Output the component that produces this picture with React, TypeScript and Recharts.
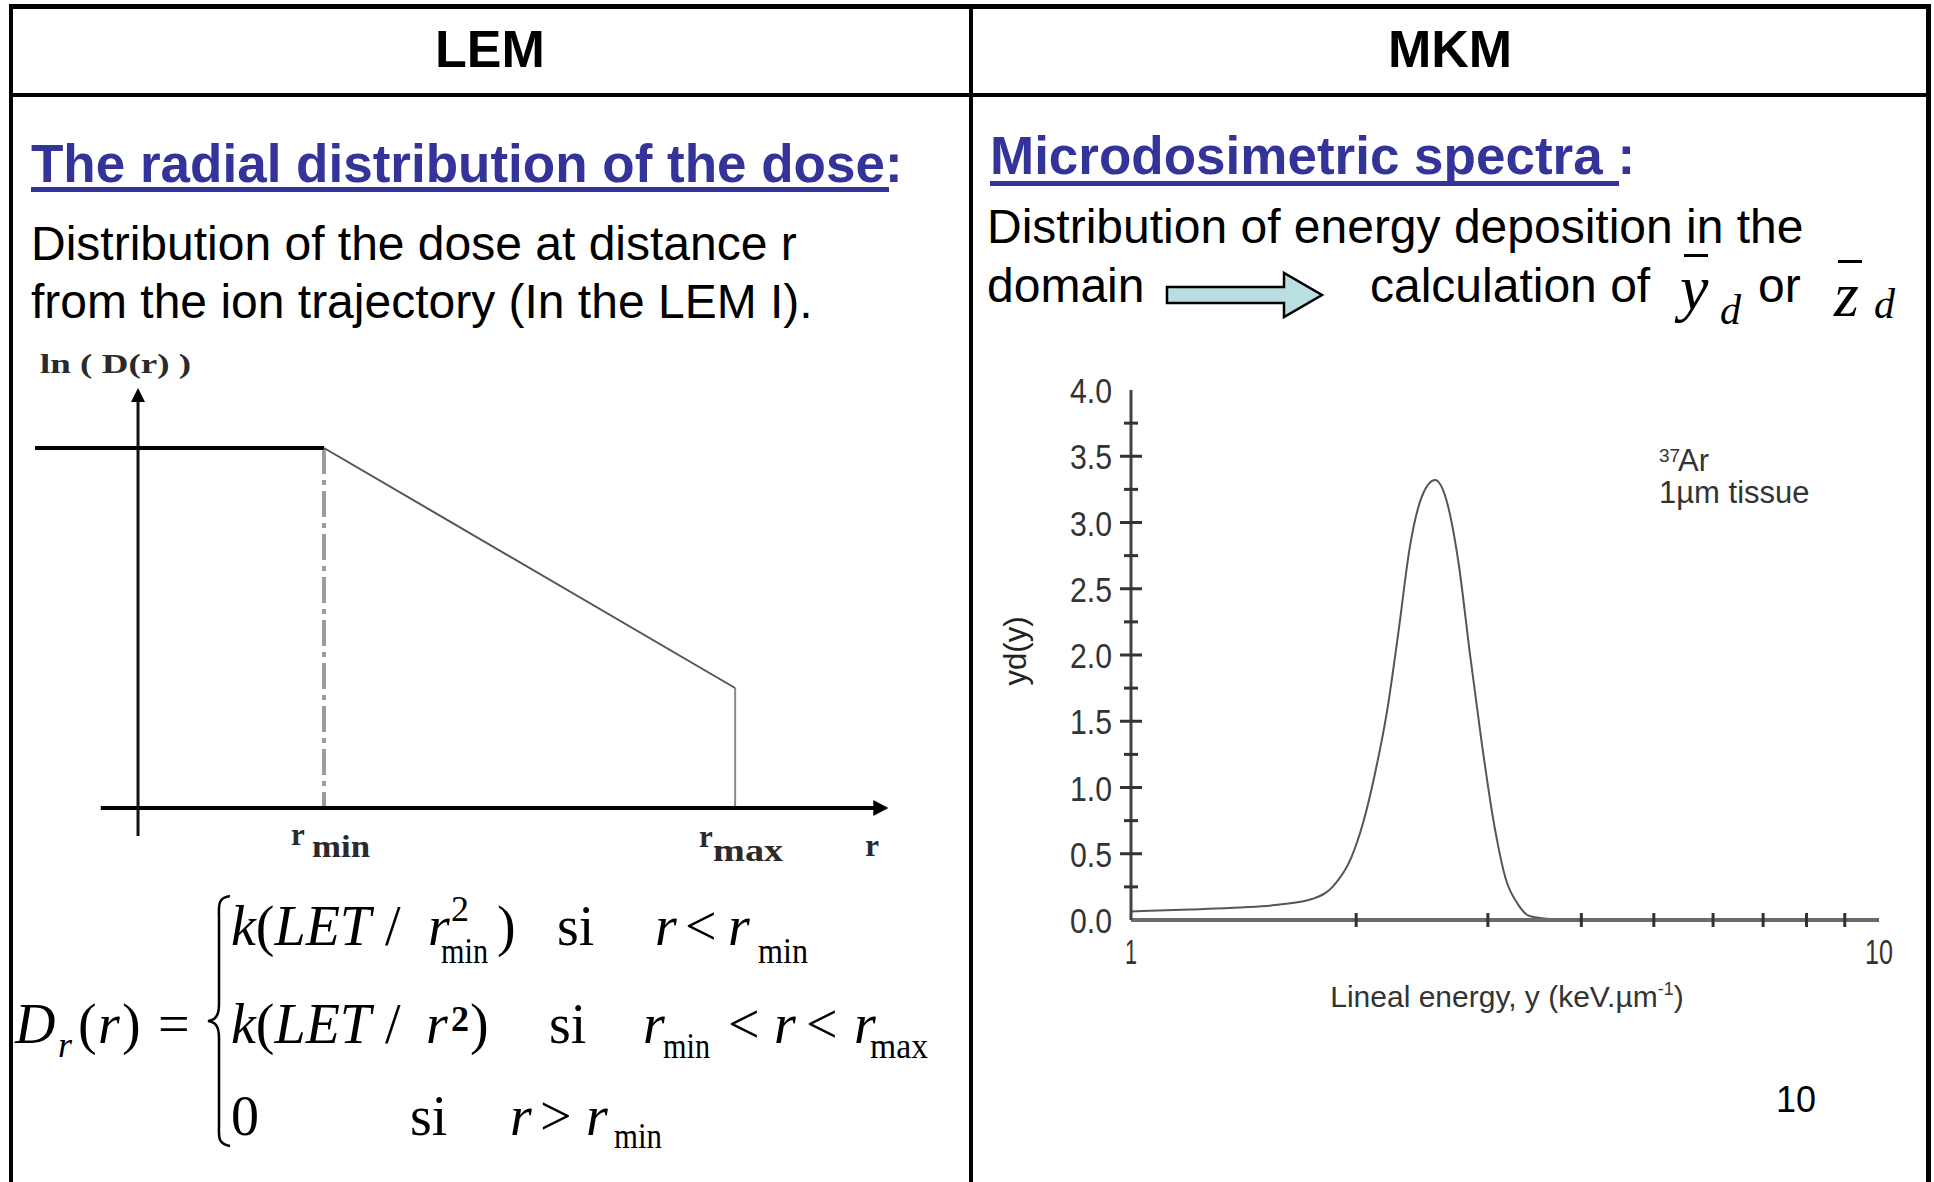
import React from "react";
import { LineChart, Line, XAxis, YAxis, ReferenceLine, ReferenceDot, Label } from "recharts";

// LEM schematic: ln(D(r)) against r, arbitrary units
const lemR = [-0.554, 1.0, 3.21]; // start of plateau, r_min, r_max
const lemLnD = [3.6, 3.6, 1.2];
const lemAxisR = [-0.2, 3.98];
const lemAxisLnD = [-0.28, 4.12];

// MKM spectrum: y d(y) against lineal energy (log axis)
const lineal = [1.0, 1.2, 1.4, 1.6, 1.75, 1.86, 1.97, 2.04, 2.12, 2.2, 2.28, 2.36, 2.45, 2.55, 2.64, 2.74, 2.84, 2.94, 3.05, 3.17, 3.29, 3.41, 3.67, 4.0];
const ydy = [0.065, 0.08, 0.095, 0.12, 0.16, 0.25, 0.47, 0.72, 1.11, 1.58, 2.19, 2.82, 3.2, 3.32, 3.17, 2.7, 2.0, 1.36, 0.76, 0.31, 0.12, 0.03, 0.005, 0];
const xTicks = [1, 2, 3, 4, 5, 6, 7, 8, 9, 10];
const yTicks = [0, 0.25, 0.5, 0.75, 1, 1.25, 1.5, 1.75, 2, 2.25, 2.5, 2.75, 3, 3.25, 3.5, 3.75, 4];

const SANS = "'Liberation Sans', Arial, sans-serif";
const SERIF = "'Liberation Serif', 'Times New Roman', serif";
const BLUE = "#333399";
const INK = "#333";

const plateau = [
  { r: lemR[0], v: lemLnD[0] },
  { r: lemR[1], v: lemLnD[1] },
];
const slope = [
  { r: lemR[1], v: lemLnD[1] },
  { r: lemR[2], v: lemLnD[2] },
];
const spectrum = lineal.map((e, i) => ({ e, v: ydy[i] }));

const isHalf = (v: number) => Math.abs(v * 2 - Math.round(v * 2)) < 1e-6;

function LemChart() {
  const lbl = { fontFamily: SERIF, fontWeight: 700, fill: "#2a2a2a" };
  return (
    <LineChart width={960} height={540} margin={{ top: 0, right: 0, bottom: 0, left: 0 }}>
      <XAxis type="number" dataKey="r" domain={[-0.742, 4.419]} allowDataOverflow hide />
      <YAxis type="number" domain={[-0.72, 4.68]} allowDataOverflow hide />
      <ReferenceLine
        segment={[{ x: lemR[1], y: lemLnD[1] }, { x: lemR[1], y: 0 }]}
        stroke="#9c9c9c"
        strokeWidth={4}
        strokeDasharray="26 6 5 6"
      />
      <ReferenceLine segment={[{ x: lemR[2], y: lemLnD[2] }, { x: lemR[2], y: 0 }]} stroke="#8a8a8a" strokeWidth={2} />
      <ReferenceLine segment={[{ x: lemAxisR[0], y: 0 }, { x: lemAxisR[1], y: 0 }]} stroke="#000" strokeWidth={4} />
      <ReferenceLine segment={[{ x: 0, y: lemAxisLnD[0] }, { x: 0, y: lemAxisLnD[1] }]} stroke="#111" strokeWidth={3} />
      <Line data={plateau} dataKey="v" stroke="#000" strokeWidth={4} dot={false} isAnimationActive={false} />
      <Line data={slope} dataKey="v" stroke="#555" strokeWidth={2} dot={false} isAnimationActive={false} />
      <ReferenceDot
        x={lemAxisR[1]}
        y={0}
        shape={(p: any) => <path d={`M${p.cx + 10},${p.cy} L${p.cx - 5},${p.cy - 8} L${p.cx - 5},${p.cy + 8} Z`} fill="#000" />}
      />
      <ReferenceDot
        x={0}
        y={lemAxisLnD[1]}
        shape={(p: any) => (
          <g>
            <path d={`M${p.cx},${p.cy - 8} L${p.cx - 7},${p.cy + 6} L${p.cx + 7},${p.cy + 6} Z`} fill="#000" />
            <text x={p.cx - 98} y={p.cy - 23} fontSize={27} textLength={151} lengthAdjust="spacingAndGlyphs" {...lbl}>
              ln ( D(r) )
            </text>
          </g>
        )}
      />
      <ReferenceDot
        x={lemR[1]}
        y={0}
        shape={(p: any) => (
          <g {...lbl} fontSize={31}>
            <text x={p.cx - 33} y={p.cy + 37}>r</text>
            <text x={p.cx - 12} y={p.cy + 49} textLength={58} lengthAdjust="spacingAndGlyphs">min</text>
          </g>
        )}
      />
      <ReferenceDot
        x={lemR[2]}
        y={0}
        shape={(p: any) => (
          <g {...lbl} fontSize={31}>
            <text x={p.cx - 36} y={p.cy + 39}>r</text>
            <text x={p.cx - 22} y={p.cy + 53} textLength={70} lengthAdjust="spacingAndGlyphs">max</text>
          </g>
        )}
      />
      <ReferenceDot
        x={lemAxisR[1]}
        y={0}
        shape={(p: any) => (
          <text x={p.cx - 13} y={p.cy + 48} fontSize={31} {...lbl}>
            r
          </text>
        )}
      />
    </LineChart>
  );
}

const BottomTick = (p: any) => {
  const v = p.payload.value;
  const end = v === 1 || v === 10;
  return (
    <g>
      {!end && <line x1={p.x} x2={p.x} y1={p.y - 7} y2={p.y + 7} stroke="#333" strokeWidth={3} />}
      {end && (
        <text
          x={p.x}
          y={p.y + 44}
          textAnchor="middle"
          fontSize={35}
          fontFamily={SANS}
          fill={INK}
          textLength={v === 10 ? 28 : 12}
          lengthAdjust="spacingAndGlyphs"
        >
          {v}
        </text>
      )}
    </g>
  );
};

const TopTick = (p: any) => {
  const v = p.payload.value;
  if (v === 1 || v === 10) return <g />;
  return <line x1={p.x} x2={p.x} y1={p.y} y2={p.y + 8} stroke="#444" strokeWidth={3} />;
};

const LeftTick = (p: any) => {
  const v = p.payload.value;
  const major = isHalf(v);
  const h = major ? 11 : 7;
  return (
    <g>
      {v > 0 && v < 4 && <line x1={p.x - h} x2={p.x + h} y1={p.y} y2={p.y} stroke="#333" strokeWidth={3} />}
      {major && (
        <text
          x={p.x - 19}
          y={p.y + 13}
          textAnchor="end"
          fontSize={35}
          fontFamily={SANS}
          fill={INK}
          textLength={42}
          lengthAdjust="spacingAndGlyphs"
        >
          {v.toFixed(1)}
        </text>
      )}
    </g>
  );
};

const RightTick = (p: any) => {
  const v = p.payload.value;
  if (v === 0 || v === 4) return <g />;
  const h = isHalf(v) ? 12 : 6;
  return <line x1={p.x - h} x2={p.x} y1={p.y} y2={p.y} stroke="#333" strokeWidth={3} />;
};

function MkmChart() {
  const axisLine = { stroke: "#6a6a6a", strokeWidth: 4 };
  return (
    <LineChart width={934} height={660} margin={{ top: 30, right: 55, bottom: 0, left: 0 }}>
      <XAxis
        type="number"
        dataKey="e"
        scale="log"
        domain={[1, 10]}
        allowDataOverflow
        ticks={xTicks}
        interval={0}
        height={100}
        tickSize={0}
        tickMargin={0}
        tickLine={false}
        axisLine={axisLine}
        tick={(p: any) => <BottomTick {...p} />}
      >
        <Label
          content={(p: any) => {
            const vb = p.viewBox;
            return (
              <text x={vb.x + vb.width / 2 + 2} y={vb.y + 87} textAnchor="middle" fontSize={30} fontFamily={SANS} fill={INK}>
                Lineal energy, y (keV.µm
                <tspan dy={-12} fontSize={18}>-1</tspan>
                <tspan dy={12}>)</tspan>
              </text>
            );
          }}
        />
      </XAxis>
      <XAxis
        xAxisId="top"
        orientation="top"
        type="number"
        dataKey="e"
        scale="log"
        domain={[1, 10]}
        allowDataOverflow
        ticks={xTicks}
        interval={0}
        height={0}
        tickSize={0}
        tickMargin={0}
        tickLine={false}
        axisLine={{ stroke: "#777", strokeWidth: 5 }}
        tick={(p: any) => <TopTick {...p} />}
      />
      <YAxis
        type="number"
        domain={[0, 4]}
        allowDataOverflow
        ticks={yTicks}
        interval={0}
        width={131}
        tickSize={0}
        tickMargin={0}
        tickLine={false}
        axisLine={{ stroke: "#444", strokeWidth: 3 }}
        tick={(p: any) => <LeftTick {...p} />}
      >
        <Label
          content={(p: any) => {
            const vb = p.viewBox;
            const cx = vb.x + 26;
            const cy = vb.y + vb.height / 2 - 4;
            return (
              <text transform={`translate(${cx},${cy}) rotate(-90)`} textAnchor="middle" fontSize={31} fontFamily={SANS} fill="#222">
                yd(y)
              </text>
            );
          }}
        />
      </YAxis>
      <YAxis
        yAxisId="right"
        orientation="right"
        type="number"
        domain={[0, 4]}
        allowDataOverflow
        ticks={yTicks}
        interval={0}
        width={0}
        tickSize={0}
        tickMargin={0}
        tickLine={false}
        axisLine={{ stroke: "#444", strokeWidth: 4 }}
        tick={(p: any) => <RightTick {...p} />}
      />
      <Line
        data={spectrum}
        dataKey="v"
        xAxisId="top"
        yAxisId="right"
        stroke="none"
        dot={false}
        activeDot={false}
        isAnimationActive={false}
      />
      <Line data={spectrum} dataKey="v" type="monotone" stroke="#555" strokeWidth={2} dot={false} isAnimationActive={false} />
      <ReferenceDot
        x={5.08}
        y={3.39}
        shape={(p: any) => (
          <g fontFamily={SANS} fill={INK}>
            <text x={p.cx} y={p.cy - 9} fontSize={19}>37</text>
            <text x={p.cx + 19} y={p.cy} fontSize={31}>Ar</text>
            <text x={p.cx} y={p.cy + 32} fontSize={31}>1µm tissue</text>
          </g>
        )}
      />
    </LineChart>
  );
}

function Slide() {
  const body = { fontFamily: SANS, fontSize: 48, fill: "#000" };
  const title = { fontFamily: SANS, fontSize: 53, fontWeight: 700, fill: BLUE };
  const m = { fontFamily: SERIF, fontSize: 56, fill: "#000" };
  const sub = { fontFamily: SERIF, fontSize: 36, fill: "#000" };
  return (
    <svg width={1934} height={1182} style={{ position: "absolute", left: 0, top: 0 }}>
      {/* table rules */}
      <rect x={9} y={4} width={1922} height={5} fill="#000" />
      <rect x={9} y={93} width={1922} height={4} fill="#000" />
      <rect x={9} y={4} width={4} height={1178} fill="#000" />
      <rect x={969} y={4} width={4} height={1178} fill="#000" />
      <rect x={1926} y={4} width={5} height={1178} fill="#000" />

      <text x={490} y={67} textAnchor="middle" fontFamily={SANS} fontSize={52} fontWeight={700}>LEM</text>
      <text x={1450} y={67} textAnchor="middle" fontFamily={SANS} fontSize={52} fontWeight={700}>MKM</text>

      {/* left column */}
      <text x={31} y={182} {...title}>The radial distribution of the dose:</text>
      <rect x={31} y={187} width={858} height={5} fill={BLUE} />
      <text x={31} y={260} {...body}>Distribution of the dose at distance r</text>
      <text x={31} y={318} {...body}>from the ion trajectory (In the LEM I).</text>

      {/* formula */}
      <text y={1043} {...m}>
        <tspan x={15} fontStyle="italic">D</tspan>
        <tspan x={78}>(</tspan>
        <tspan x={98} fontStyle="italic">r</tspan>
        <tspan x={122}>)</tspan>
        <tspan x={158}>=</tspan>
      </text>
      <text x={58} y={1057} {...sub} fontStyle="italic">r</text>
      <path
        d="M230,896 C217,898 219,906 219,918 L219,1004 C219,1015 216,1020 208,1021 C216,1022 219,1027 219,1038 L219,1124 C219,1136 217,1144 230,1146"
        fill="none"
        stroke="#000"
        strokeWidth={2.5}
      />
      <text y={945} {...m}>
        <tspan x={231} fontStyle="italic">k</tspan>
        <tspan>(</tspan>
        <tspan fontStyle="italic">LET</tspan>
        <tspan> / </tspan>
        <tspan x={428} fontStyle="italic">r</tspan>
        <tspan x={497}>)</tspan>
        <tspan x={557}>si</tspan>
        <tspan x={655} fontStyle="italic">r</tspan>
        <tspan x={685}>&lt;</tspan>
        <tspan x={728} fontStyle="italic">r</tspan>
      </text>
      <text x={451} y={921} {...sub}>2</text>
      <text x={441} y={963} {...sub} textLength={47} lengthAdjust="spacingAndGlyphs">min</text>
      <text x={758} y={963} {...sub} textLength={50} lengthAdjust="spacingAndGlyphs">min</text>

      <text y={1043} {...m}>
        <tspan x={231} fontStyle="italic">k</tspan>
        <tspan>(</tspan>
        <tspan fontStyle="italic">LET</tspan>
        <tspan> / </tspan>
        <tspan x={426} fontStyle="italic">r</tspan>
        <tspan x={470}>)</tspan>
        <tspan x={549}>si</tspan>
        <tspan x={643} fontStyle="italic">r</tspan>
        <tspan x={728}>&lt;</tspan>
        <tspan x={774} fontStyle="italic">r</tspan>
        <tspan x={806}>&lt;</tspan>
        <tspan x={854} fontStyle="italic">r</tspan>
      </text>
      <text x={451} y={1031} {...sub} fontWeight={700}>2</text>
      <text x={663} y={1058} {...sub} textLength={47} lengthAdjust="spacingAndGlyphs">min</text>
      <text x={870} y={1058} {...sub} textLength={58} lengthAdjust="spacingAndGlyphs">max</text>

      <text y={1135} {...m}>
        <tspan x={231}>0</tspan>
        <tspan x={410}>si</tspan>
        <tspan x={510} fontStyle="italic">r</tspan>
        <tspan x={540}>&gt;</tspan>
        <tspan x={586} fontStyle="italic">r</tspan>
      </text>
      <text x={614} y={1148} {...sub} textLength={48} lengthAdjust="spacingAndGlyphs">min</text>

      {/* right column */}
      <text x={990} y={174} {...title}>Microdosimetric spectra :</text>
      <rect x={990} y={181} width={629} height={5} fill={BLUE} />
      <text x={987} y={243} {...body}>Distribution of energy deposition in the</text>
      <text x={987} y={302} {...body}>domain</text>
      <path
        d="M1167,287 L1284,287 L1284,273 L1322,295 L1284,317 L1284,303 L1167,303 Z"
        fill="#b9dfe3"
        stroke="#000"
        strokeWidth={2.5}
      />
      <text x={1370} y={302} {...body}>calculation of</text>
      <rect x={1684} y={254} width={24} height={3} fill="#000" />
      <text x={1680} y={309} fontFamily={SERIF} fontSize={64} fontStyle="italic">y</text>
      <text x={1720} y={324} fontFamily={SERIF} fontSize={42} fontStyle="italic">d</text>
      <text x={1758} y={302} {...body}>or</text>
      <rect x={1838} y={260} width={24} height={3} fill="#000" />
      <text x={1834} y={316} fontFamily={SERIF} fontSize={64} fontStyle="italic">z</text>
      <text x={1874} y={318} fontFamily={SERIF} fontSize={42} fontStyle="italic">d</text>

      <text x={1776} y={1112} fontFamily={SANS} fontSize={36}>10</text>
    </svg>
  );
}

export default function App() {
  return (
    <div style={{ position: "absolute", left: 0, top: 0, width: 1934, height: 1182, background: "#fff", overflow: "hidden" }}>
      <Slide />
      <div style={{ position: "absolute", left: 0, top: 340 }}>
        <LemChart />
      </div>
      <div style={{ position: "absolute", left: 1000, top: 360 }}>
        <MkmChart />
      </div>
    </div>
  );
}
